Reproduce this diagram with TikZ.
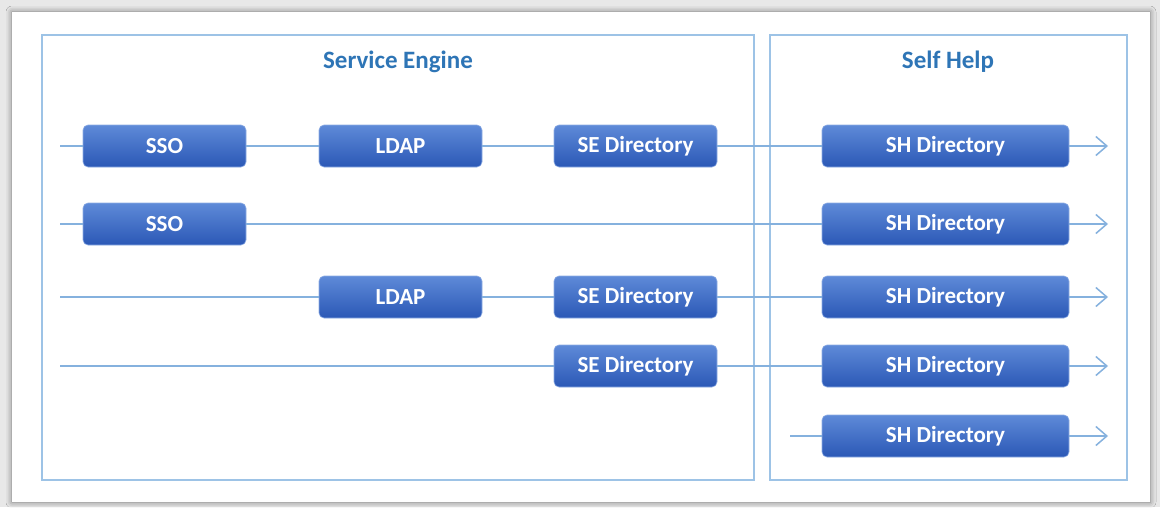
\documentclass[tikz,border=0pt]{standalone}
\usepackage{fontspec}
\setmainfont{Carlito}
\usetikzlibrary{arrows.meta,shadows.blur}
\definecolor{frameblue}{HTML}{9DC3E6}
\definecolor{lineblue}{HTML}{85B1DE}
\definecolor{titleblue}{HTML}{2E75B6}
\definecolor{boxtop}{HTML}{5E8AD8}
\definecolor{boxbot}{HTML}{2B58B6}
\begin{document}
\begin{tikzpicture}[x=1pt,y=-1pt,
  blk/.style={rounded corners=5pt, top color=boxtop, bottom color=boxbot,
    draw=boxtop!70!white, line width=0.6pt, text=white,
    font=\fontsize{23}{26}\selectfont\bfseries,
    minimum height=42pt, inner sep=0pt, anchor=center},
  small/.style={blk, minimum width=163pt},
  wide/.style={blk, minimum width=247pt},
  area/.style={draw=frameblue, line width=1.2pt},
  ttl/.style={text=titleblue, font=\fontsize{25}{28}\selectfont\bfseries},
  conn/.style={draw=lineblue, line width=1.5pt},
  arr/.style={conn, -{Straight Barb[length=11pt,width=19pt]}}
]
\useasboundingbox (0,0) rectangle (1160,507);
\fill[gray!18] (0,0) rectangle (1160,507);
\fill[white, blur shadow={shadow xshift=0pt, shadow yshift=0pt, shadow blur radius=6pt, shadow opacity=50}] (12,12) rectangle (1150,502);
% areas
\draw[area] (42,35) rectangle (754,480);
\draw[area] (770,35) rectangle (1127,480);
\node[ttl] (tse) at (398,62) {Service Engine};
\node[ttl] (tsh) at (948,62) {Self Help};
% row 1
\node[small] (sso1)  at (164.5,146) {SSO};
\node[small] (ldap1) at (400.5,146) {LDAP};
\node[small] (sed1)  at (635.5,146) {SE Directory};
\node[wide]  (shd1)  at (945.5,146) {SH Directory};
% row 2
\node[small] (sso2)  at (164.5,224) {SSO};
\node[wide]  (shd2)  at (945.5,224) {SH Directory};
% row 3
\node[small] (ldap3) at (400.5,297) {LDAP};
\node[small] (sed3)  at (635.5,297) {SE Directory};
\node[wide]  (shd3)  at (945.5,297) {SH Directory};
% row 4
\node[small] (sed4)  at (635.5,366) {SE Directory};
\node[wide]  (shd4)  at (945.5,366) {SH Directory};
% row 5
\node[wide]  (shd5)  at (945.5,436) {SH Directory};
% start/end coordinates
\coordinate (a1) at (60,146);   \coordinate (e1) at (1108,146);
\coordinate (a2) at (60,224);   \coordinate (e2) at (1108,224);
\coordinate (a3) at (60,297);   \coordinate (e3) at (1108,297);
\coordinate (a4) at (60,366);   \coordinate (e4) at (1108,366);
\coordinate (a5) at (790,436);  \coordinate (e5) at (1108,436);
% connectors
\draw[conn] (a1) -- (sso1.west);
\draw[conn] (sso1.east) -- (ldap1.west);
\draw[conn] (ldap1.east) -- (sed1.west);
\draw[conn] (sed1.east) -- (shd1.west);
\draw[arr] (shd1.east) -- (e1);
\draw[conn] (a2) -- (sso2.west);
\draw[conn] (sso2.east) -- (shd2.west);
\draw[arr] (shd2.east) -- (e2);
\draw[conn] (a3) -- (ldap3.west);
\draw[conn] (ldap3.east) -- (sed3.west);
\draw[conn] (sed3.east) -- (shd3.west);
\draw[arr] (shd3.east) -- (e3);
\draw[conn] (a4) -- (sed4.west);
\draw[conn] (sed4.east) -- (shd4.west);
\draw[arr] (shd4.east) -- (e4);
\draw[conn] (a5) -- (shd5.west);
\draw[arr] (shd5.east) -- (e5);
\end{tikzpicture}
\end{document}
